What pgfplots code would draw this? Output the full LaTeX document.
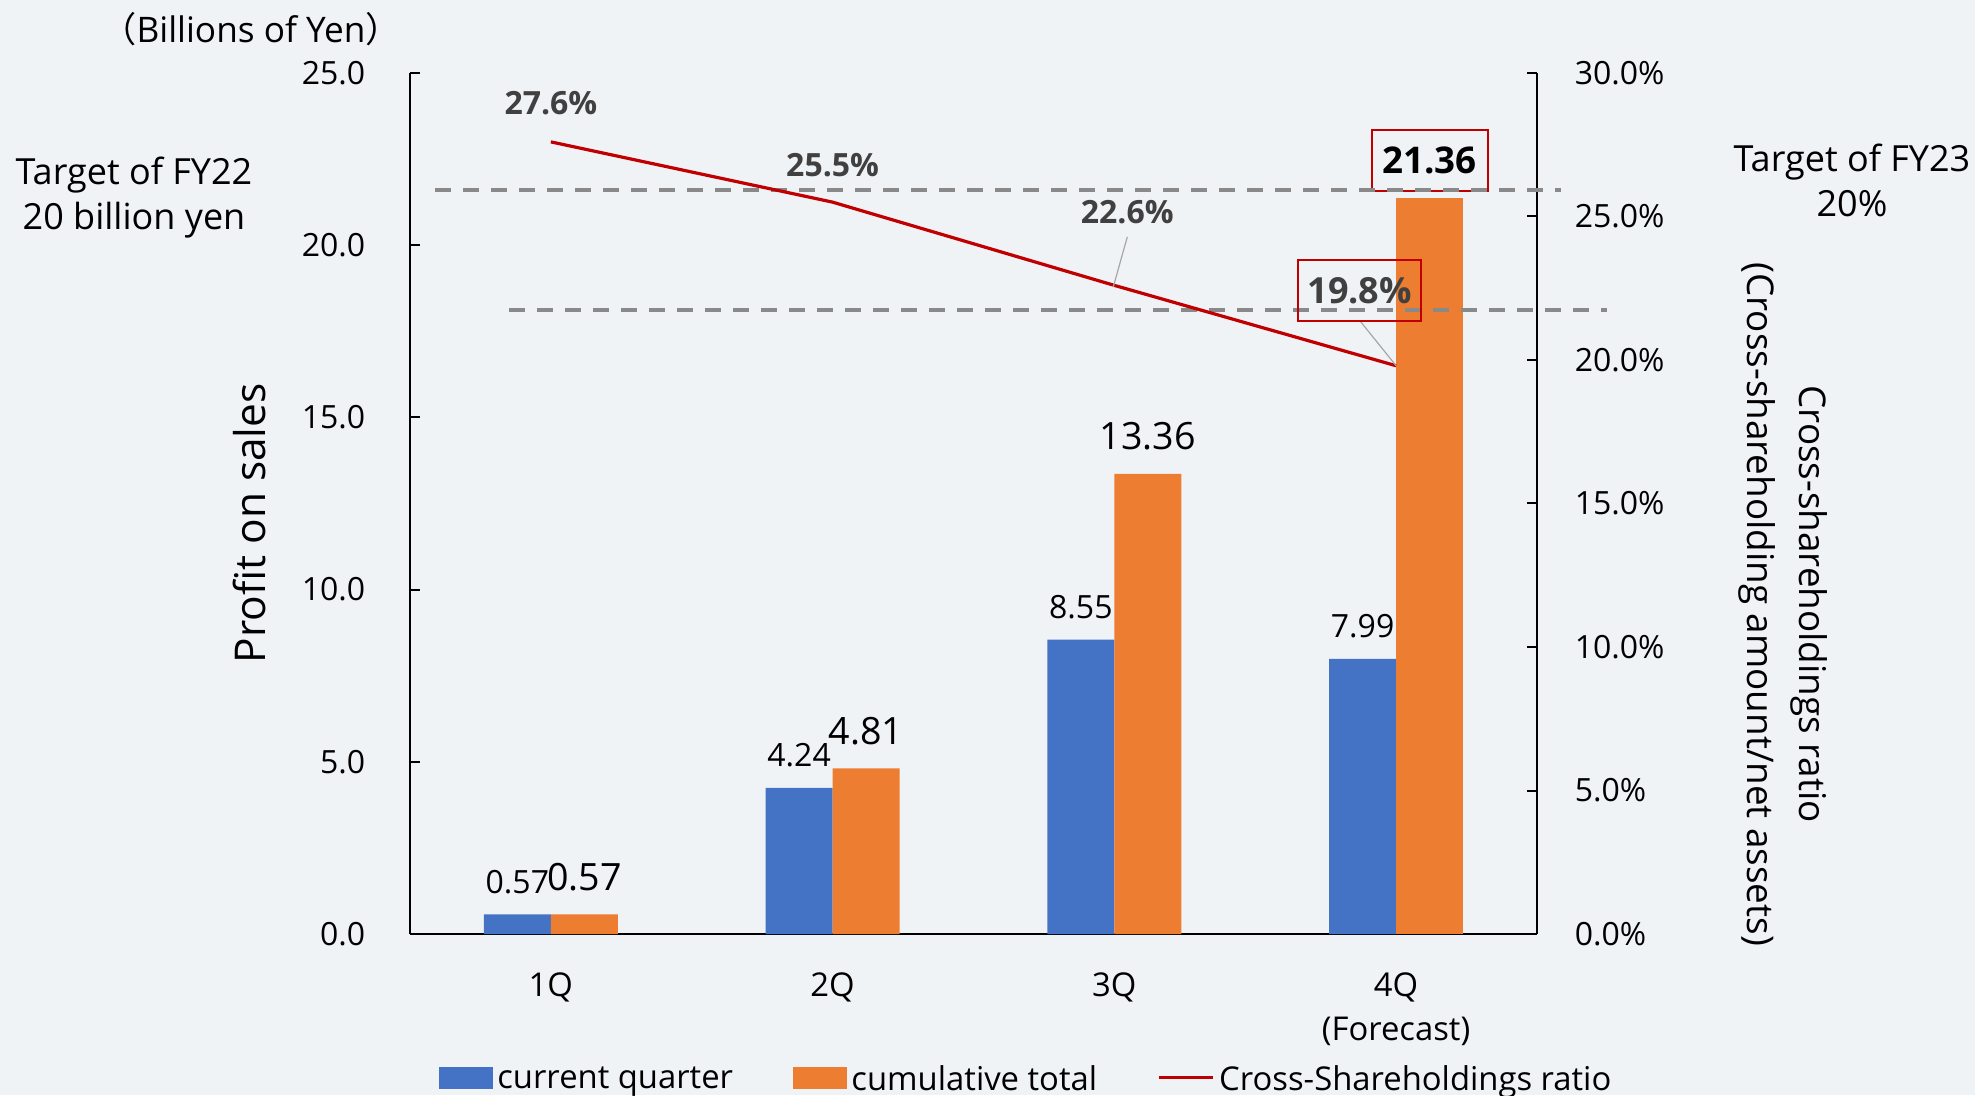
\documentclass[border=0pt]{standalone}
\usepackage{pgfplots}
\usepackage{pgfplotstable}
\pgfplotsset{compat=1.18}
\pgfplotsset{/pgf/number format/assume math mode=true}
\usepackage{fontspec}
\setmainfont{Open Sans}
\newfontfamily\cjk{Noto Sans CJK JP}

\definecolor{bg}{RGB}{240,243,246}
\definecolor{cblue}{RGB}{68,114,196}
\definecolor{corange}{RGB}{237,125,49}
\definecolor{cred}{RGB}{192,0,0}
\definecolor{dashgray}{RGB}{137,137,137}
\definecolor{labgray}{RGB}{64,64,64}
\definecolor{leadgray}{RGB}{166,166,166}

\newcommand{\fsz}[1]{\fontsize{#1}{#1}\selectfont}

% quarter, current quarter, cumulative, cross-shareholdings ratio (%)
\pgfplotstableread{
x cur cum ratio
0 0.57 0.57 27.6
1 4.24 4.81 25.5
2 8.55 13.36 22.6
3 7.99 21.36 19.8
}\data

\begin{document}
\begin{tikzpicture}
\path[fill=bg, use as bounding box] (0,0) rectangle (493.75pt,273.75pt);

% left axis: profit on sales (bars)
\begin{axis}[
  at={(102.5pt,40.25pt)}, anchor=south west,
  scale only axis, width=281.75pt, height=215.25pt,
  xmin=-0.5, xmax=3.5, ymin=0, ymax=25,
  axis x line*=bottom, axis y line*=left,
  axis line style={black, line width=0.5pt},
  xtick={0,1,2,3},
  xticklabels={1Q,2Q,3Q,{4Q\\(Forecast)}},
  xticklabel style={align=center, font=\fontsize{8.2pt}{11pt}\selectfont, inner sep=0pt, yshift=-9.5pt},
  major x tick style={draw=none},
  ytick={0,5,...,25},
  tick align=inside, major tick length=2.5pt,
  major y tick style={black, line width=0.5pt},
  yticklabel style={font=\fsz{8pt}, inner sep=0pt, xshift=-11pt,
    /pgf/number format/fixed, /pgf/number format/fixed zerofill,
    /pgf/number format/precision=1},
  ylabel={Profit on sales},
  every axis y label/.style={at={(axis description cs:-0.142,0.477)}, rotate=90, anchor=center, font=\fsz{10.6pt}},
]
\addplot[ybar, bar width=0.2376, bar shift=-0.1188, fill=cblue, draw=none, point meta=y,
  nodes near coords={\pgfmathprintnumber[fixed,fixed zerofill,precision=2]{\pgfplotspointmeta}},
  nodes near coords style={font=\fsz{8pt}, text=black, anchor=south, inner sep=0pt,
    xshift=-8.375pt, yshift=5pt}]
  table[x=x, y=cur] \data;
\addplot[ybar, bar width=0.2376, bar shift=0.1188, fill=corange, draw=none, point meta=y,
  restrict x to domain=-0.5:2.5,
  nodes near coords={\pgfmathprintnumber[fixed,fixed zerofill,precision=2]{\pgfplotspointmeta}},
  nodes near coords style={font=\fsz{9.4pt}, text=black, anchor=south, inner sep=0pt,
    xshift=8.375pt, yshift=5.75pt}]
  table[x=x, y=cum] \data;
\addplot[ybar, bar width=0.2376, bar shift=0.1188, fill=corange, draw=none, point meta=y,
  restrict x to domain=2.5:3.5,
  nodes near coords={\pgfmathprintnumber[fixed,fixed zerofill,precision=2]{\pgfplotspointmeta}},
  nodes near coords style={font=\bfseries\fsz{9.2pt}, text=black, draw=cred, line width=0.5pt,
    minimum width=29pt, minimum height=15.25pt, inner sep=0pt, anchor=south,
    xshift=8.375pt, yshift=1.6pt}]
  table[x=x, y=cum] \data;
\end{axis}

% right axis: cross-shareholdings ratio (line)
\begin{axis}[
  at={(102.5pt,40.25pt)}, anchor=south west,
  scale only axis, width=281.75pt, height=215.25pt,
  xmin=-0.5, xmax=3.5, ymin=0, ymax=30,
  axis x line=none, axis y line*=right,
  axis line style={black, line width=0.5pt},
  ytick={0,5,...,30},
  tick align=inside, major tick length=2.5pt,
  major y tick style={black, line width=0.5pt},
  yticklabel={\pgfmathprintnumber[fixed,fixed zerofill,precision=1]{\tick}\%},
  yticklabel style={font=\fsz{8pt}, inner sep=0pt, xshift=9.25pt},
  ylabel={Cross-shareholdings ratio\\(Cross-shareholding amount/net assets)},
  every axis y label/.style={at={(axis description cs:1.2187,0.383)}, rotate=-90, anchor=center,
    align=center, font=\fontsize{9.2pt}{13pt}\selectfont},
  clip=false,
  legend columns=3,
  legend cell align=left,
  legend style={at={(axis description cs:0.0257,-0.1812)}, anchor=south west,
    draw=none, fill=none, inner sep=0pt, outer sep=0pt, font=\fsz{8.2pt},
    nodes={inner sep=0pt, text depth=0pt},
    /tikz/every odd column/.append style={column sep=1.2pt},
    /tikz/every even column/.append style={column sep=15pt}},
]
\addlegendimage{legend image code/.code={\fill[cblue] (0pt,-2.75pt) rectangle (13pt,2.5pt);}}
\addlegendentry{current quarter}
\addlegendimage{legend image code/.code={\fill[corange] (0pt,-2.75pt) rectangle (13pt,2.5pt);}}
\addlegendentry{cumulative total}

% target lines
\addplot[dashgray, line width=1pt, dash pattern=on 4pt off 3pt, forget plot]
  coordinates {(-0.411,25.92) (3.585,25.92)};
\addplot[dashgray, line width=1pt, dash pattern=on 4pt off 3pt, forget plot]
  coordinates {(-0.149,21.74) (3.748,21.74)};

\addplot[cred, line width=0.8pt, mark=none,
  legend image code/.code={\draw[cred, line width=0.8pt] (0pt,0pt) -- (13.5pt,0pt);}]
  table[x=x, y=ratio] \data;
\addlegendentry{Cross-Shareholdings ratio}

\node[font=\bfseries\fsz{8pt}, text=labgray, anchor=base] at (axis cs:0,28.54) {27.6\%};
\node[font=\bfseries\fsz{8pt}, text=labgray, anchor=base] at (axis cs:1,26.41) {25.5\%};
\node[font=\bfseries\fsz{8pt}, text=labgray, anchor=base] at (axis cs:2.046,24.77) {22.6\%};
\draw[leadgray, line width=0.3pt] (axis cs:2.046,24.29) -- (axis cs:1.996,22.54);
\draw[leadgray, line width=0.3pt] (axis cs:2.872,21.36) -- (axis cs:3,19.8);
\node[draw=cred, line width=0.5pt, text=labgray, font=\bfseries\fsz{9pt},
  minimum width=30.75pt, minimum height=15.25pt, inner sep=0pt] at (axis cs:2.871,22.42) {19.8\%};
\end{axis}

\node[font=\fsz{8.8pt}, anchor=base] at (62.75pt,263pt) {{\cjk （}Billions of Yen{\cjk ）}};
\node[font=\fsz{9pt}, anchor=base] at (33.5pt,227.5pt) {Target of FY22};
\node[font=\fsz{9pt}, anchor=base] at (33.5pt,216.25pt) {20 billion yen};
\node[font=\fsz{9pt}, anchor=base] at (463pt,230.75pt) {Target of FY23};
\node[font=\fsz{9pt}, anchor=base] at (463pt,219.5pt) {20\%};
\end{tikzpicture}
\end{document}
